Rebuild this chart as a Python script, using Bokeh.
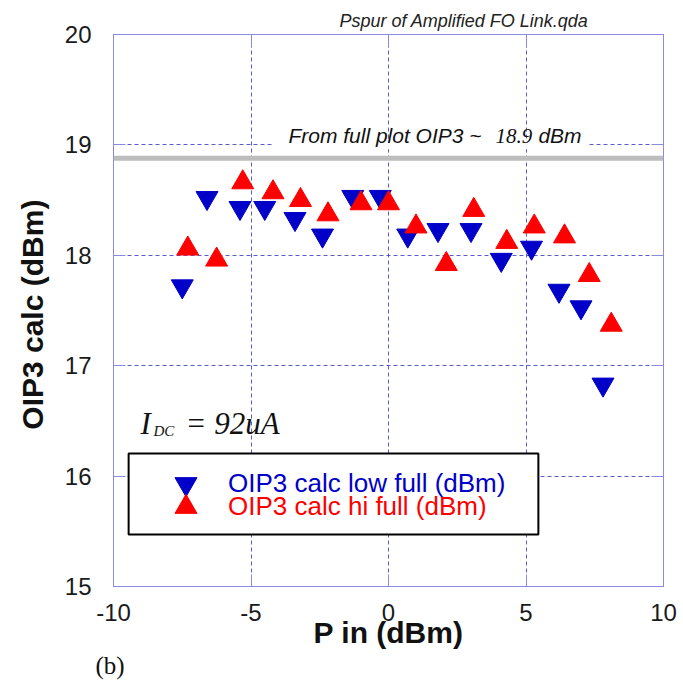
import math
from bokeh.plotting import figure
from bokeh.models import (Range1d, FixedTicker, LinearAxis, Span, Label, BoxAnnotation,
                          Legend, LegendItem, Title)
from bokeh.embed import file_html
from bokeh.resources import INLINE

# ---------------- data ----------------
p_in_low = [-7.5, -6.6, -5.4, -4.5, -3.4, -2.4, -1.3, -0.3, 0.7, 1.8, 3.0, 4.1, 5.2, 6.2, 7.0, 7.8]
oip3_low = [17.72, 18.52, 18.43, 18.43, 18.33, 18.18, 18.53, 18.53, 18.18, 18.23, 18.23, 17.96, 18.07, 17.68, 17.53, 16.83]
p_in_hi = [-7.3, -6.25, -5.3, -4.2, -3.2, -2.2, -1.0, 0.0, 1.0, 2.1, 3.1, 4.3, 5.3, 6.4, 7.3, 8.1]
oip3_hi = [18.06, 17.96, 18.66, 18.57, 18.50, 18.37, 18.47, 18.47, 18.26, 17.92, 18.41, 18.12, 18.26, 18.17, 17.82, 17.37]
full_plot_oip3 = 18.88
x_ticks = [-10, -5, 0, 5, 10]
x_tick_labels = ["-10", "-5", "0", "5", "10"]
y_ticks = [15, 16, 17, 18, 19, 20]

BLUE = "#0000c8"
RED = "#ff0000"
FRAME = "#8a8ae0"
GRID = "#4b4bc4"
SANS = "Liberation Sans"
SERIF = "Liberation Serif"

p = figure(width=683, height=685, output_backend="svg", toolbar_location=None, title=None,
           x_range=Range1d(-10, 10), y_range=Range1d(15, 20),
           min_border_left=113, min_border_right=20, min_border_top=34, min_border_bottom=99)
p.background_fill_color = "white"
p.border_fill_color = "white"
p.outline_line_color = FRAME
p.outline_line_width = 1

def style_axis(ax, ticks, labels=True):
    ax.ticker = FixedTicker(ticks=ticks)
    ax.axis_line_color = FRAME
    ax.major_tick_line_color = FRAME
    ax.major_tick_in = 12
    ax.major_tick_out = 0
    ax.minor_tick_line_color = None
    if labels:
        ax.major_label_text_font = SANS
        ax.major_label_text_font_size = "24px"
        ax.major_label_text_color = "#1a1a1a"
    else:
        ax.major_label_text_font_size = "0px"
        ax.major_label_text_color = None

style_axis(p.xaxis[0], x_ticks)
style_axis(p.yaxis[0], y_ticks)
p.xaxis[0].major_label_overrides = {t: s for t, s in zip(x_ticks, x_tick_labels)}
p.xaxis[0].major_label_standoff = 17
p.yaxis[0].major_label_standoff = 22
p.xaxis[0].axis_label = "P in (dBm)"
p.xaxis[0].axis_label_text_font = SANS
p.xaxis[0].axis_label_text_font_style = "bold"
p.xaxis[0].axis_label_text_font_size = "30px"
p.xaxis[0].axis_label_text_color = "#111111"
p.xaxis[0].axis_label_standoff = -8

top_ax = LinearAxis()
style_axis(top_ax, x_ticks, labels=False)
p.add_layout(top_ax, "above")
right_ax = LinearAxis()
style_axis(right_ax, y_ticks, labels=False)
p.add_layout(right_ax, "right")

for g in p.grid:
    g.grid_line_color = GRID
    g.grid_line_dash = "4 3"
    g.grid_line_width = 1
    g.grid_line_alpha = 0.9
p.xgrid.ticker = FixedTicker(ticks=x_ticks)
p.ygrid.ticker = FixedTicker(ticks=y_ticks)

# titles placed around the frame
p.add_layout(Title(text="Pspur of Amplified FO Link.qda", align="right", offset=75,
                   text_font=SANS, text_font_style="italic", text_font_size="18px",
                   text_color="#222222", standoff=8), "above")
p.add_layout(Title(text="OIP3 calc  (dBm)", align="center", offset=34,
                   text_font=SANS, text_font_style="bold", text_font_size="30px",
                   text_color="#111111", standoff=26), "left")
p.add_layout(Title(text="(b)", align="left", offset=-18, vertical_align="top",
                   text_font=SERIF, text_font_style="normal", text_font_size="25px",
                   text_color="#111111", standoff=0), "below")

# white band hiding the y=19 grid line behind the annotation text
p.add_layout(BoxAnnotation(left=-4.22, right=7.27, bottom=18.96, top=19.04,
                           fill_color="white", fill_alpha=1, line_color=None))

# reference level from full plot
p.add_layout(Span(location=full_plot_oip3, dimension="width", line_color="#bdbdbd", line_width=5))

r_low = p.scatter(p_in_low, oip3_low, marker="inverted_triangle", size=22,
                  fill_color=BLUE, line_color=BLUE, line_width=1)
r_hi = p.scatter(p_in_hi, oip3_hi, marker="triangle", size=22,
                 fill_color=RED, line_color=RED, line_width=1)

# legend frame
p.add_layout(BoxAnnotation(left=-9.45, right=5.45, bottom=15.47, top=16.205,
                           fill_color="white", fill_alpha=1, line_color="black",
                           line_alpha=1, line_width=2))

def mk_legend(label, rend, color, vy):
    return Legend(items=[LegendItem(label=label, renderers=[rend])],
                  location=(45, vy), glyph_width=55, glyph_height=55,
                  padding=0, margin=0, label_standoff=15,
                  border_line_color=None, background_fill_alpha=0,
                  label_text_font=SANS, label_text_font_size="26px",
                  label_text_color=color, label_text_baseline="middle")

p.add_layout(mk_legend("OIP3 calc low full (dBm)", r_low, BLUE, 75), "center")
p.add_layout(mk_legend("OIP3 calc hi full (dBm)", r_hi, RED, 52), "center")

# annotations inside the frame
p.add_layout(Label(x=-3.64, y=19.085, text="From full plot OIP3 ~", text_font=SANS,
                   text_font_style="italic", text_font_size="21px", text_color="#111111",
                   text_baseline="alphabetic"))
p.add_layout(Label(x=3.89, y=19.085, text="18.9", text_font=SERIF,
                   text_font_style="italic", text_font_size="21px", text_color="#111111",
                   text_baseline="alphabetic"))
p.add_layout(Label(x=5.45, y=19.085, text="dBm", text_font=SANS,
                   text_font_style="italic", text_font_size="21px", text_color="#111111",
                   text_baseline="alphabetic"))

p.add_layout(Label(x=-9.02, y=16.476, text="I", text_font=SERIF, text_font_style="italic",
                   text_font_size="31px", text_color="#111111", text_baseline="alphabetic"))
p.add_layout(Label(x=-8.55, y=16.413, text="DC", text_font=SERIF, text_font_style="italic",
                   text_font_size="15px", text_color="#111111", text_baseline="alphabetic"))
p.add_layout(Label(x=-7.38, y=16.476, text="= 92uA", text_font=SERIF, text_font_style="italic",
                   text_font_size="31px", text_color="#111111", text_baseline="alphabetic"))

open("out.html", "w").write(file_html(p, INLINE))
